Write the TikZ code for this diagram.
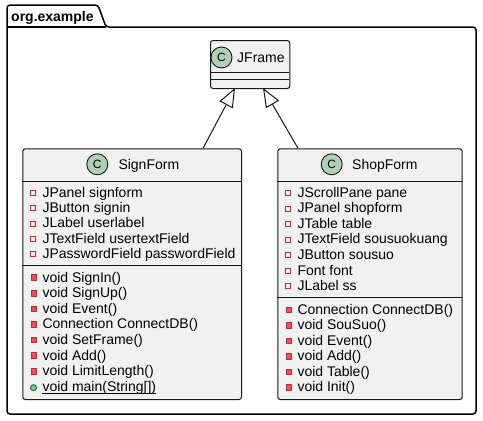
\documentclass[tikz,border=0pt]{standalone}
\usepackage{fontspec}
\setmainfont{Liberation Sans}
\usetikzlibrary{arrows.meta}
\definecolor{boxfill}{HTML}{F1F1F1}
\definecolor{boxline}{HTML}{181818}
\definecolor{circfill}{HTML}{ADD1B2}
\definecolor{privline}{HTML}{C82930}
\definecolor{privfill}{HTML}{F24D5C}
\definecolor{publine}{HTML}{038048}
\definecolor{pubfill}{HTML}{84BE84}
\begin{document}
\begin{tikzpicture}[x=1pt,y=-1pt,
  classbox/.style={draw=boxline, fill=boxfill, line width=1pt, rounded corners=2.5pt, inner sep=0, anchor=north west},
  sepline/.style={draw=boxline, line width=1pt},
  member/.style={anchor=base west, inner sep=0, font=\fontsize{14}{16}\selectfont},
  cname/.style={member},
  cicon/.style={circle, draw=boxline, fill=circfill, line width=0.9pt, minimum size=21pt, inner sep=0, font=\fontsize{12}{12}\selectfont},
  privfield/.style={draw=privline, line width=1pt, minimum size=5pt, inner sep=0},
  privmeth/.style={draw=privline, fill=privfill, line width=1pt, minimum size=5.5pt, inner sep=0},
  pubmeth/.style={circle, draw=publine, fill=pubfill, line width=1pt, minimum size=6pt, inner sep=0},
  inh/.style={draw=boxline, line width=1pt, -{Triangle[open, length=19pt, width=15pt, fill=white]}},
  pkg/.style={draw=black, line width=1.5pt, line join=round, rounded corners=3pt},
]
\useasboundingbox (0,0) rectangle (483,421);

% package
\draw[pkg] (7,30) -- (7,5) -- (98,5) -- (106,27) -- (476,27) -- (476,414) -- (7,414) -- cycle;
\draw[draw=black, line width=1.5pt] (7,27) -- (106,27);
\node[member, font=\fontsize{14}{16}\selectfont\bfseries] (pkgname) at (11,21) {org.example};

% JFrame
\node[classbox, minimum width=79.3pt, minimum height=48pt] (jframe) at (210,40) {};
\draw[sepline] (210,72.7) -- (289.3,72.7);
\draw[sepline] (210,79.7) -- (289.3,79.7);
\node[cicon] (jfc) at (221.5,57.5) {C};
\node[cname] (jfn) at (237,62) {JFrame};

% SignForm
\node[classbox, minimum width=218.7pt, minimum height=250.7pt] (signform) at (22.3,148.3) {};
\draw[sepline] (22.3,181) -- (241,181);
\draw[sepline] (22.3,265.7) -- (241,265.7);
\node[cicon] (sfc) at (97.3,164.3) {C};
\node[cname] (sfn) at (118.3,169.3) {SignForm};
\foreach \t [count=\i from 0] in {JPanel signform, JButton signin, JLabel userlabel, JTextField usertextField, JPasswordField passwordField}{
  \node[privfield] (sfai\i) at (33.3,197.3+15.3*\i-4.3) {};
  \node[member] (sfa\i) at (42.3,197.3+15.3*\i) {\t};
}
\foreach \t [count=\i from 0] in {void SignIn(), void SignUp(), void Event(), Connection ConnectDB(), void SetFrame(), void Add(), void LimitLength()}{
  \node[privmeth] (sfmi\i) at (33.8,282+15.6*\i-4.3) {};
  \node[member] (sfm\i) at (42.3,282+15.6*\i) {\t};
}
\node[pubmeth] (sfmi7) at (33.5,391.2-3.5) {};
\node[member] (sfm7) at (42.3,391.2) {void main(String[])};
\draw[line width=0.8pt] ([yshift=-2.3pt]sfm7.base west) -- ([yshift=-2.3pt]sfm7.base east);

% ShopForm
\node[classbox, minimum width=184.4pt, minimum height=250.7pt] (shopform) at (277.3,148.3) {};
\draw[sepline] (277.3,181) -- (461.7,181);
\draw[sepline] (277.3,297.3) -- (461.7,297.3);
\node[cicon] (spc) at (331.7,164.3) {C};
\node[cname] (spn) at (352,169.3) {ShopForm};
\foreach \t [count=\i from 0] in {JScrollPane pane, JPanel shopform, JTable table, JTextField sousuokuang, JButton sousuo, Font font, JLabel ss}{
  \node[privfield] (spai\i) at (288.3,197.3+15.55*\i-4.3) {};
  \node[member] (spa\i) at (297.3,197.3+15.55*\i) {\t};
}
\foreach \t [count=\i from 0] in {Connection ConnectDB(), void SouSuo(), void Event(), void Add(), void Table(), void Init()}{
  \node[privmeth] (spmi\i) at (288.8,314.2+15.5*\i-4.3) {};
  \node[member] (spm\i) at (297.3,314.2+15.5*\i) {\t};
}

% inheritance
\coordinate (jfL) at (235,88);
\coordinate (jfR) at (263,88);
\coordinate (sfT) at (203,148.3);
\coordinate (spT) at (298,148.3);
\draw[inh] (sfT) -- (jfL);
\draw[inh] (spT) -- (jfR);
\end{tikzpicture}
\end{document}
